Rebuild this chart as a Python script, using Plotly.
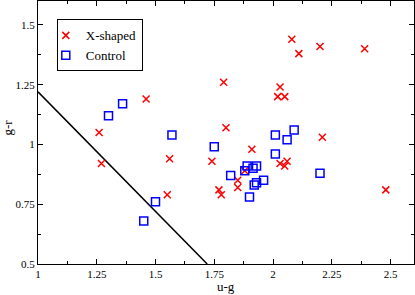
import plotly.graph_objects as go

x_shaped_ug = [1.26, 1.27, 1.46, 1.55, 1.56, 1.74, 1.77, 1.78, 1.79, 1.80, 1.85, 1.85, 1.88, 1.91,
               2.03, 2.02, 2.05, 2.03, 2.05, 2.06, 2.08, 2.11, 2.20, 2.21, 2.39, 2.48]
x_shaped_gr = [1.05, 0.92, 1.19, 0.79, 0.94, 0.93, 0.81, 0.79, 1.26, 1.07, 0.85, 0.82, 0.89, 0.98,
               1.24, 1.20, 1.20, 0.92, 0.91, 0.93, 1.44, 1.38, 1.41, 1.03, 1.40, 0.81]
control_ug = [1.30, 1.36, 1.45, 1.50, 1.57, 1.75, 1.82, 1.88, 1.89, 1.915, 1.93, 1.90, 1.92, 1.93,
              1.96, 2.01, 2.01, 2.06, 2.09, 2.20]
control_gr = [1.12, 1.17, 0.68, 0.76, 1.04, 0.99, 0.87, 0.89, 0.91, 0.90, 0.91, 0.78, 0.83, 0.84,
              0.85, 0.96, 1.04, 1.02, 1.06, 0.88]
cut_ug = [1.0, 1.72]
cut_gr = [1.22, 0.5]

x_ticks = [1, 1.25, 1.5, 1.75, 2, 2.25, 2.5]
x_ticklabels = ["1", "1.25", "1.5", "1.75", "2", "2.25", "2.5"]
y_ticks = [0.5, 0.75, 1, 1.25, 1.5]
y_ticklabels = ["0.5", "0.75", "1", "1.25", "1.5"]

font = "Liberation Serif, serif"

fig = go.Figure()
fig.add_trace(go.Scatter(x=cut_ug, y=cut_gr, mode="lines", line=dict(color="black", width=1.5),
                         showlegend=False, hoverinfo="skip"))
fig.add_trace(go.Scatter(x=x_shaped_ug, y=x_shaped_gr, mode="markers", name="X-shaped",
                         marker=dict(symbol="x-thin-open", size=7, color="red",
                                     line=dict(color="red", width=1.5))))
fig.add_trace(go.Scatter(x=control_ug, y=control_gr, mode="markers", name="Control",
                         marker=dict(symbol="square-open", size=8, color="blue",
                                     line=dict(color="blue", width=1.5))))

axis_common = dict(showgrid=False, zeroline=False, showline=True, linecolor="black", linewidth=1,
                   mirror="ticks", ticks="inside", ticklen=5, tickcolor="black", automargin=False,
                   tickfont=dict(family=font, size=11, color="black"),
                   minor=dict(ticks="inside", ticklen=3, tickcolor="black", dtick=0.125))

fig.update_xaxes(range=[1, 2.6], tickvals=x_ticks, ticktext=x_ticklabels, **axis_common)
fig.update_yaxes(range=[0.5, 1.6], tickvals=y_ticks, ticktext=y_ticklabels, **axis_common)

fig.add_annotation(text="u-g", xref="paper", yref="paper", x=0.5, y=0, xanchor="center",
                   yanchor="top", yshift=-13, showarrow=False,
                   font=dict(family=font, size=13, color="black"))
fig.add_annotation(text="g-r", xref="paper", yref="paper", x=0, y=0.517, xanchor="right",
                   yanchor="middle", xshift=-21, textangle=-90, showarrow=False,
                   font=dict(family=font, size=13, color="black"))

fig.update_layout(
    width=415, height=295,
    margin=dict(l=38, r=1, t=1, b=31),
    paper_bgcolor="white", plot_bgcolor="white",
    font=dict(family=font, size=12, color="black"),
    legend=dict(x=0.05, y=0.93, xanchor="left", yanchor="top",
                bgcolor="white", bordercolor="black", borderwidth=1,
                font=dict(family=font, size=13, color="black"),
                tracegroupgap=0, itemwidth=30, indentation=-12),
)

fig.write_html("out.html", config={"displayModeBar": False},
               post_script="document.body.style.margin='0px';")
